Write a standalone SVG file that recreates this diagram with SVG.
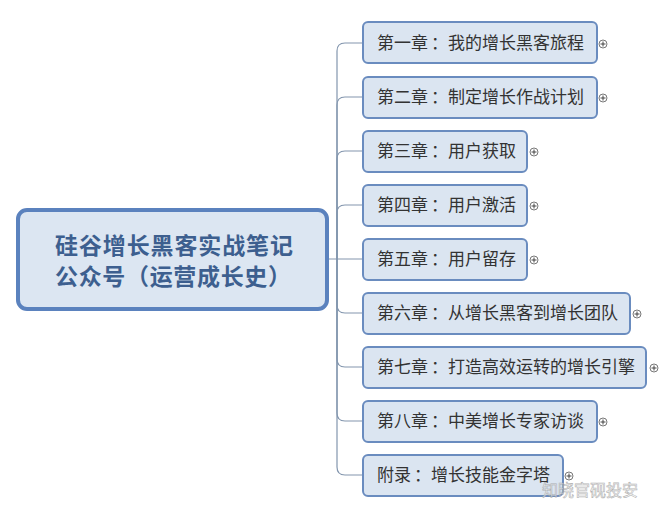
<svg xmlns="http://www.w3.org/2000/svg" width="665" height="518" viewBox="0 0 665 518">
<style>
.box{fill:#dbe5f1;stroke:#6a8cbf;stroke-width:2}
.t{font-family:"Microsoft YaHei","Noto Sans CJK SC",sans-serif;font-size:17px;fill:#333}
.r{font-family:"Microsoft YaHei","Noto Sans CJK SC",sans-serif;font-size:23px;font-weight:bold;fill:#3d5f8f}
.c{fill:#fff;stroke:#555;stroke-width:0.8}
.p{stroke:#333;stroke-width:0.9}
.ln{fill:none;stroke:#8396ae;stroke-width:1.2}
</style>
<rect width="665" height="518" fill="#fff"/>
<g id="connectors">
<path class="ln" d="M328 259 H363"/>
<path class="ln" d="M337 259 V51 Q337 43 345 43 H363"/>
<path class="ln" d="M337 259 V105 Q337 97 345 97 H363"/>
<path class="ln" d="M337 259 V159 Q337 151 345 151 H363"/>
<path class="ln" d="M337 259 V213 Q337 205 345 205 H363"/>
<path class="ln" d="M337 259 V305 Q337 313 345 313 H363"/>
<path class="ln" d="M337 259 V359 Q337 367 345 367 H363"/>
<path class="ln" d="M337 259 V413 Q337 421 345 421 H363"/>
<path class="ln" d="M337 259 V467 Q337 475 345 475 H363"/>
</g>
<g id="root">
<rect x="18" y="210" width="309" height="99" rx="9" fill="#dce6f2" stroke="#5b82be" stroke-width="4"/>
<text class="r" x="55" y="254" textLength="238" lengthAdjust="spacing">硅谷增长黑客实战笔记</text>
<text class="r" x="55" y="285" textLength="236" lengthAdjust="spacing">公众号（运营成长史）</text>
</g>
<g id="n1"><rect class="box" x="363" y="22" width="234" height="41" rx="5"/><text class="t" x="377" y="49">第一章<tspan dx="3">：</tspan>我的增长黑客旅程</text><circle class="c" cx="603" cy="44" r="4"/><path class="p" d="M600.5 44h5M603 41.5v5"/></g>
<g id="n2"><rect class="box" x="363" y="77" width="234" height="41" rx="5"/><text class="t" x="377" y="103">第二章<tspan dx="3">：</tspan>制定增长作战计划</text><circle class="c" cx="603" cy="98" r="4"/><path class="p" d="M600.5 98h5M603 95.5v5"/></g>
<g id="n3"><rect class="box" x="363" y="131" width="164" height="41" rx="5"/><text class="t" x="377" y="157">第三章<tspan dx="3">：</tspan>用户获取</text><circle class="c" cx="534" cy="152" r="4"/><path class="p" d="M531.5 152h5M534 149.5v5"/></g>
<g id="n4"><rect class="box" x="363" y="185" width="164" height="41" rx="5"/><text class="t" x="377" y="211">第四章<tspan dx="3">：</tspan>用户激活</text><circle class="c" cx="534" cy="206" r="4"/><path class="p" d="M531.5 206h5M534 203.5v5"/></g>
<g id="n5"><rect class="box" x="363" y="239" width="164" height="41" rx="5"/><text class="t" x="377" y="265">第五章<tspan dx="3">：</tspan>用户留存</text><circle class="c" cx="534" cy="260" r="4"/><path class="p" d="M531.5 260h5M534 257.5v5"/></g>
<g id="n6"><rect class="box" x="363" y="293" width="267" height="41" rx="5"/><text class="t" x="377" y="319">第六章<tspan dx="3">：</tspan>从增长黑客到增长团队</text><circle class="c" cx="637" cy="314" r="4"/><path class="p" d="M634.5 314h5M637 311.5v5"/></g>
<g id="n7"><rect class="box" x="363" y="347" width="283" height="41" rx="5"/><text class="t" x="377" y="373">第七章<tspan dx="3">：</tspan>打造高效运转的增长引擎</text><circle class="c" cx="654" cy="368" r="4"/><path class="p" d="M651.5 368h5M654 365.5v5"/></g>
<g id="n8"><rect class="box" x="363" y="401" width="234" height="41" rx="5"/><text class="t" x="377" y="427">第八章<tspan dx="3">：</tspan>中美增长专家访谈</text><circle class="c" cx="603" cy="422" r="4"/><path class="p" d="M600.5 422h5M603 419.5v5"/></g>
<g id="n9"><rect class="box" x="363" y="455" width="200" height="41" rx="5"/><text class="t" x="377" y="481">附录<tspan dx="3">：</tspan>增长技能金字塔</text><circle class="c" cx="569" cy="476" r="4"/><path class="p" d="M566.5 476h5M569 473.5v5"/></g>
<g id="watermark" opacity="0.75">
<text x="542" y="496" font-family="'Noto Sans CJK SC',sans-serif" font-size="16" fill="#fff" stroke="#9a9a9a" stroke-width="0.6">知晓官砚投安</text>
</g>
</svg>
